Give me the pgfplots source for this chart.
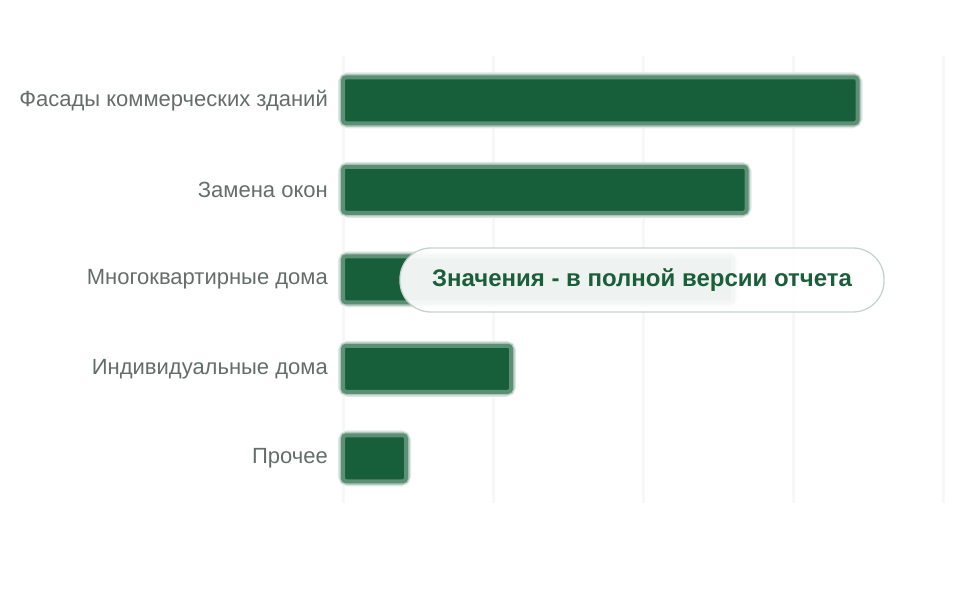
\documentclass[border=0pt]{standalone}
\usepackage{fontspec}
\setmainfont{Liberation Sans}
\usepackage{pgfplots}
\pgfplotsset{compat=1.18}

\definecolor{barc}{HTML}{175E3B}
\definecolor{labelc}{HTML}{646D69}
\definecolor{gridc}{HTML}{F6F7F6}
\definecolor{boxtext}{HTML}{1B5E3A}
\definecolor{boxline}{HTML}{C6D3CB}

\begin{document}
\begin{tikzpicture}[x=1pt,y=1pt]
  \path[use as bounding box] (0,0) rectangle (960,600);
  \begin{axis}[
      at={(343pt,97pt)}, anchor=south west,
      scale only axis, width=600pt, height=447.5pt,
      xbar, bar width=46pt, bar shift=0pt,
      xmin=0, xmax=40, ymin=-0.5, ymax=4.5, y dir=reverse,
      xtick={0,10,20,30,40}, xticklabels={},
      ytick={0,1,2,3,4},
      yticklabels={Фасады коммерческих зданий, Замена окон,
        Многоквартирные дома, Индивидуальные дома, Прочее},
      xmajorgrids, grid style={color=gridc, line width=3pt},
      axis line style={draw=none}, major tick length=0pt,
      yticklabel style={font=\fontsize{22}{26}\selectfont, text=labelc,
        inner sep=0pt, xshift=-15pt},
      clip=false,
    ]
    % soft halo standing in for the blur
    \addplot[forget plot, fill=none, draw=barc!14, line width=10pt,
      rounded corners=5pt]
      coordinates {(34.3,0) (26.9,1) (26.0,2) (11.2,3) (4.2,4)};
    \addplot[forget plot, fill=none, draw=barc!35, line width=7pt,
      rounded corners=4pt]
      coordinates {(34.3,0) (26.9,1) (26.0,2) (11.2,3) (4.2,4)};
    \addplot[fill=barc, draw=barc!70, line width=4pt, rounded corners=3pt]
      coordinates {(34.3,0) (26.9,1) (26.0,2) (11.2,3) (4.2,4)};
  \end{axis}
  \node[draw=boxline, line width=1.3pt, fill=white, fill opacity=0.93,
        text opacity=1, rounded corners=31pt, minimum width=484pt,
        minimum height=64pt, text=boxtext,
        font=\bfseries\fontsize{24}{28}\selectfont]
    at (642,320) {Значения - в полной версии отчета};
\end{tikzpicture}
\end{document}
